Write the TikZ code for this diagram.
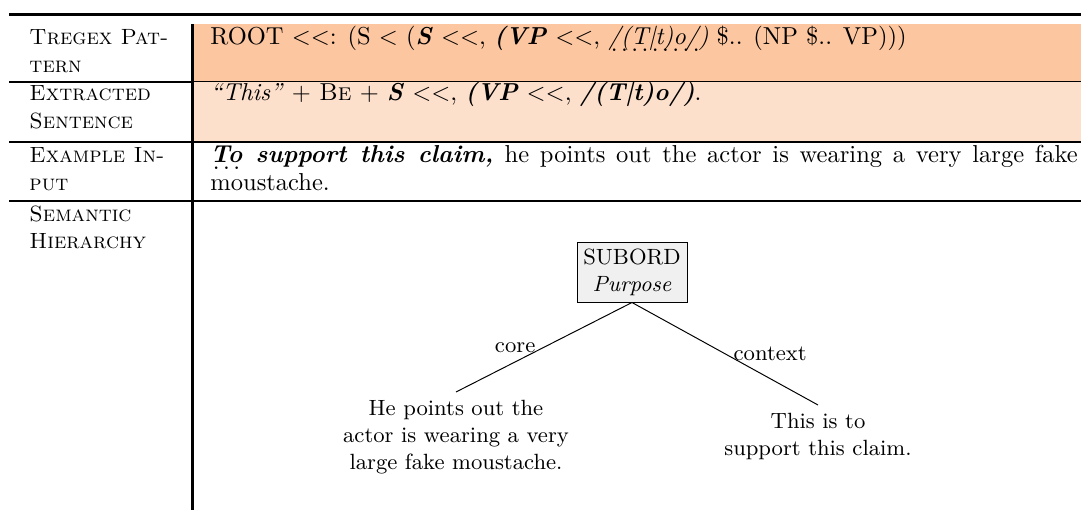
\documentclass[tikz,border=0pt]{standalone}
\definecolor{rowA}{RGB}{252,198,160}
\definecolor{rowB}{RGB}{253,224,204}
\newcommand\dotund[1]{\leavevmode\setbox0\hbox{#1}\rlap{\hbox to\wd0{\leaders\hbox{\kern.1em\lower2.6pt\hbox{\normalfont.}\kern.04em}\hfil}}\box0\relax}
\newcommand\lt{\mbox{\textless}}
\begin{document}
\begin{tikzpicture}[x=0.40816pt,y=-0.40816pt,
  lbl/.style={anchor=base west,inner sep=0pt,font=\small\scshape},
  txt/.style={anchor=base west,inner sep=0pt},
  rulethick/.style={line width=0.82pt},
  rulethin/.style={line width=0.41pt},
  toprl/.style={line width=1.1pt},
  relbox/.style={draw=black,fill=gray!12,align=center,font=\small,inner sep=2.5pt,minimum width=44.9pt,minimum height=24.1pt},
  leaf/.style={align=center,anchor=north,font=\small,inner ysep=3.1pt},
  edgelbl/.style={font=\small},
  edgeline/.style={line width=0.4pt}]
\useasboundingbox (0,0) rectangle (1081,510);
% table fills and rules
\fill[rowA] (192,24) rectangle (1081,82);
\fill[rowB] (192,82) rectangle (1081,142);
\draw[toprl] (9,14.5) -- (1081,14.5);
\draw[rulethick] (9,82) -- (192,82);
\draw[rulethin] (192,82) -- (1081,82);
\draw[rulethick] (9,142) -- (1081,142);
\draw[rulethick] (9,201.5) -- (1081,201.5);
\draw[rulethick] (192.5,24) -- (192.5,510);
% left column
\node[lbl] (l1a) at (29,45) {Tregex Pat-};
\node[lbl] (l1b) at (29,73) {tern};
\node[lbl] (l2a) at (29,101) {Extracted};
\node[lbl] (l2b) at (29,129) {Sentence};
\node[lbl] (l3a) at (29,163) {Example In-};
\node[lbl] (l3b) at (29,191) {put};
\node[lbl] (l4a) at (29,222) {Semantic};
\node[lbl] (l4b) at (29,249) {Hierarchy};
% right column
\node[txt] (r1) at (210,45) {ROOT \lt\lt: (S \lt{} (\textbf{\textit{S}} \lt\lt, \textbf{\textit{(VP}} \lt\lt, \dotund{\textit{/(T\textbar t)o/)}} \$.. (NP \$.. VP)))};
\node[txt] (r2) at (210,101) {\textit{\textquotedblleft This\textquotedblright} + \textsc{Be} + \textbf{\textit{S}} \lt\lt, \textbf{\textit{(VP}} \lt\lt, \textbf{\textit{/(T\textbar t)o/)}}.};
\node[txt] (r3a) at (210,163) {\hbox to 354pt{\textbf{\textit{\dotund{To} support this claim,}} he points out the actor is wearing a very large fake}};
\node[txt] (r3b) at (210,191) {moustache.};
% tree
\node[relbox] (root) at (632,272.5) {SUBORD\\\textit{Purpose}};
\node[leaf] (lc) at (456,392) {He points out the\\actor is wearing a very\\large fake moustache.};
\node[leaf] (rc) at (818,405) {This is to\\support this claim.};
\draw[edgeline] (root.south) -- node[midway,left,edgelbl]{core} (lc.north);
\draw[edgeline] (root.south) -- node[midway,right,edgelbl]{context} (rc.north);
\end{tikzpicture}
\end{document}
